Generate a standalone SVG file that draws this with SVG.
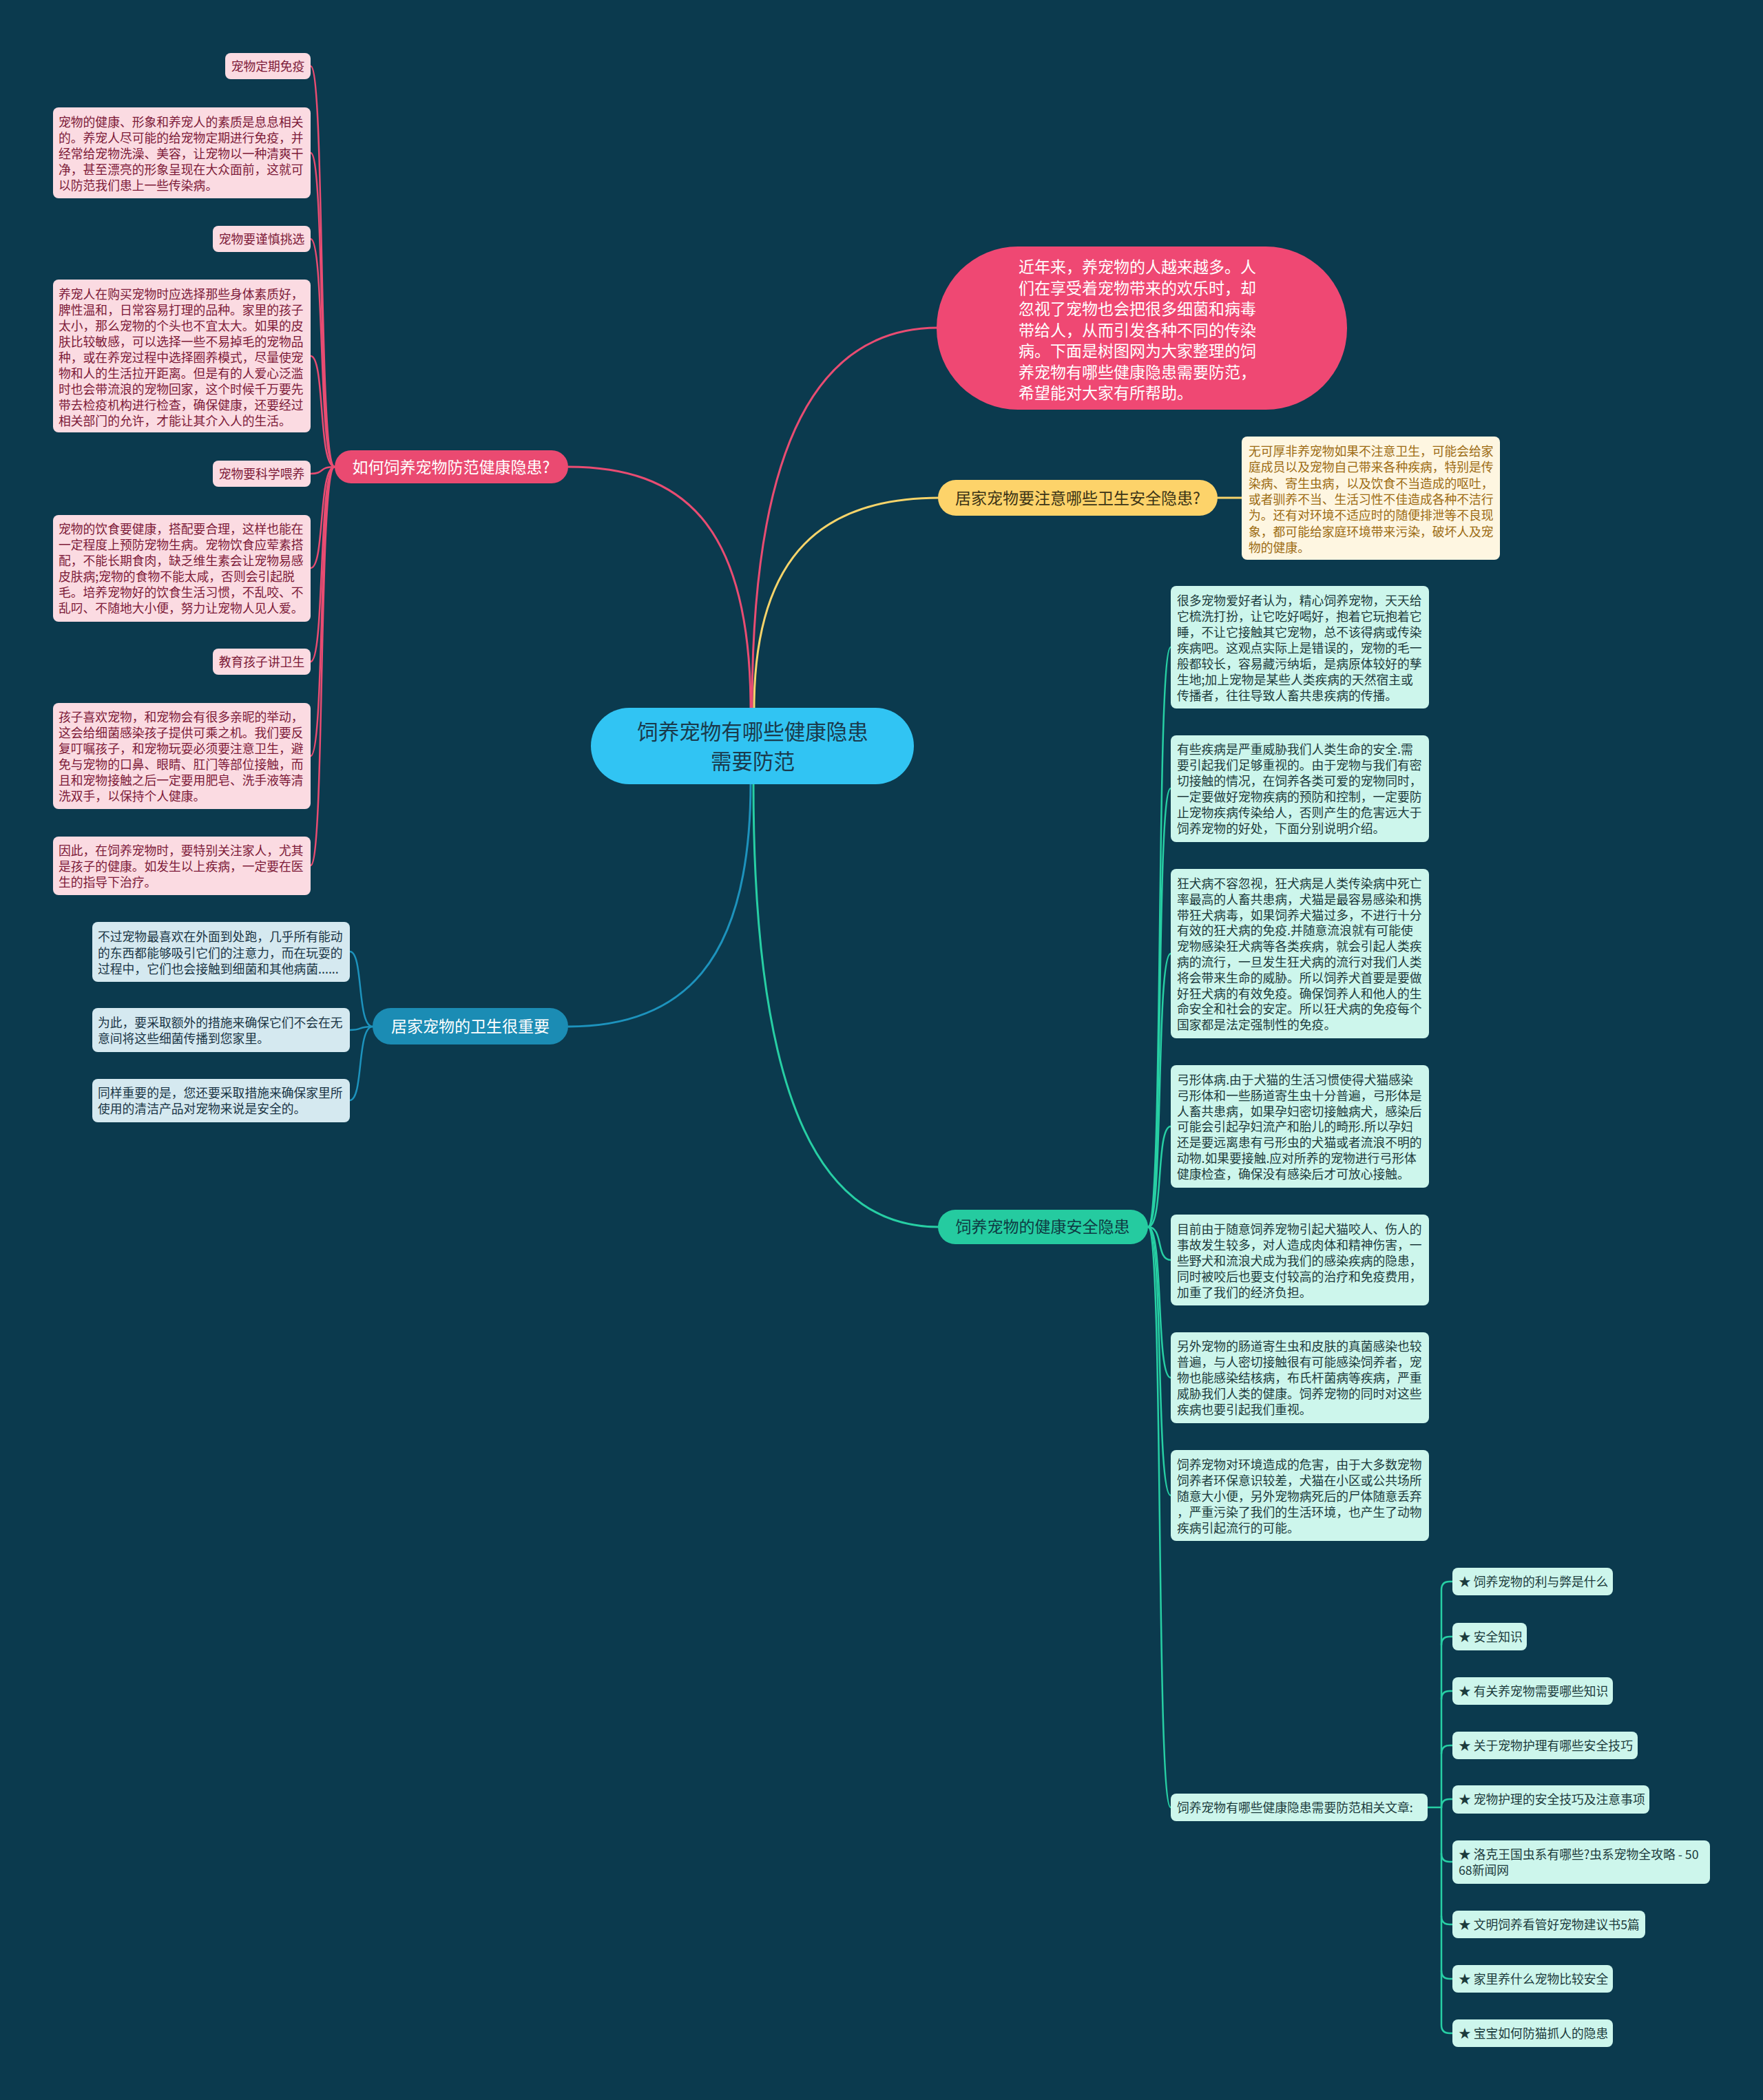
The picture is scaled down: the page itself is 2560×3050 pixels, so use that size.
<svg xmlns="http://www.w3.org/2000/svg" width="2560" height="3050" viewBox="0 0 2560 3050">
<style>
text{font-family:"Noto Sans CJK SC","Noto Sans",sans-serif;}
.c{fill:none;stroke-linecap:round;}
.cp{stroke:#e94c72;stroke-width:3;}
.cy{stroke:#f7d46a;stroke-width:3;}
.cb{stroke:#1d93bd;stroke-width:3;}
.cg{stroke:#27cfa4;stroke-width:3;}
.pl{fill:#fbdbe2;}
.plt{fill:#7d1a38;font-size:17.8px;}
.bl{fill:#d5e9f0;}
.blt{fill:#1a3545;font-size:17.8px;}
.gl{fill:#cdf6ec;}
.glt{fill:#1c3b3c;font-size:17.8px;}
.yl{fill:#fef6e1;}
.ylt{fill:#9c6b12;font-size:17.8px;}
.mt{font-size:23px;}
</style>
<rect x="0" y="0" width="2560" height="3050" fill="#0b3a4e"/>

<g id="connectors">
  <path class="c cp" d="M1092,1030 C1092,640 1190,476 1362,476"/>
  <path class="c cp" d="M1090,1030 C1090,760 990,678 825,678"/>
  <path class="c cy" d="M1095,1030 C1095,800 1200,723 1364,723"/>
  <path class="c cb" d="M1090,1137 C1090,1400 990,1491 825,1491"/>
  <path class="c cg" d="M1094,1137 C1094,1620 1200,1782 1364,1782"/>
  <path class="c cy" d="M1768,723 L1803,723"/>
  <g class="c cp" style="stroke-width:2.5">
    <path d="M486,678 C462,678 472,96 451,96"/>
    <path d="M486,678 C462,678 472,222 451,222"/>
    <path d="M486,678 C462,678 472,347 451,347"/>
    <path d="M486,678 C462,678 472,517 451,517"/>
    <path d="M486,678 C462,678 472,688 451,688"/>
    <path d="M486,678 C462,678 472,825 451,825"/>
    <path d="M486,678 C462,678 472,961 451,961"/>
    <path d="M486,678 C462,678 472,1098 451,1098"/>
    <path d="M486,678 C462,678 472,1257 451,1257"/>
  </g>
  <g class="c cb" style="stroke-width:2.5">
    <path d="M541,1491 C518,1491 528,1382 508,1382"/>
    <path d="M541,1491 C518,1491 528,1496 508,1496"/>
    <path d="M541,1491 C518,1491 528,1598 508,1598"/>
  </g>
  <g class="c cg" style="stroke-width:2.5">
    <path d="M1667,1782 C1690,1782 1678,940 1700,940"/>
    <path d="M1667,1782 C1690,1782 1678,1145 1700,1145"/>
    <path d="M1667,1782 C1690,1782 1678,1385 1700,1385"/>
    <path d="M1667,1782 C1690,1782 1678,1636 1700,1636"/>
    <path d="M1667,1782 C1690,1782 1678,1830 1700,1830"/>
    <path d="M1667,1782 C1690,1782 1678,2001 1700,2001"/>
    <path d="M1667,1782 C1690,1782 1678,2172 1700,2172"/>
    <path d="M1667,1782 C1690,1782 1678,2625 1700,2625"/>
    <path d="M2073,2625 L2093,2625"/>
    <path d="M2093,2625 L2093,2309 Q2093,2297 2105,2297 L2109,2297"/>
    <path d="M2093,2389 Q2093,2377 2105,2377 L2109,2377"/>
    <path d="M2093,2468 Q2093,2456 2105,2456 L2109,2456"/>
    <path d="M2093,2547 Q2093,2535 2105,2535 L2109,2535"/>
    <path d="M2093,2625 Q2093,2613 2105,2613 L2109,2613"/>
    <path d="M2093,2625 L2093,2941 Q2093,2953 2105,2953 L2109,2953"/>
    <path d="M2093,2692 Q2093,2704 2105,2704 L2109,2704"/>
    <path d="M2093,2783 Q2093,2795 2105,2795 L2109,2795"/>
    <path d="M2093,2862 Q2093,2874 2105,2874 L2109,2874"/>
  </g>
</g>

<g id="center">
  <rect x="858" y="1028" width="469" height="111" rx="55.5" fill="#31c4f3"/>
  <text x="1093" y="1074" text-anchor="middle" font-size="30.5" fill="#1a3a4c">饲养宠物有哪些健康隐患</text>
  <text x="1093" y="1117" text-anchor="middle" font-size="30.5" fill="#1a3a4c">需要防范</text>
</g>

<g id="intro">
  <rect x="1360" y="358" width="596" height="237" rx="118" fill="#ef4873"/>
  <text fill="#ffffff" font-size="23">
    <tspan x="1479" y="396">近年来，养宠物的人越来越多。人</tspan>
    <tspan x="1479" y="426.5">们在享受着宠物带来的欢乐时，却</tspan>
    <tspan x="1479" y="457">忽视了宠物也会把很多细菌和病毒</tspan>
    <tspan x="1479" y="487.5">带给人，从而引发各种不同的传染</tspan>
    <tspan x="1479" y="518">病。下面是树图网为大家整理的饲</tspan>
    <tspan x="1479" y="548.5">养宠物有哪些健康隐患需要防范，</tspan>
    <tspan x="1479" y="579">希望能对大家有所帮助。</tspan>
  </text>
</g>

<g id="yellow-main">
  <rect x="1362" y="697" width="406" height="52" rx="26" fill="#fdd36a"/>
  <text class="mt" x="1565" y="731.5" text-anchor="middle" fill="#3b3316">居家宠物要注意哪些卫生安全隐患?</text>
</g>
<g id="yellow-detail">
  <rect class="yl" x="1803" y="634" width="375" height="179" rx="8"/>
  <text class="ylt">
    <tspan x="1813" y="662">无可厚非养宠物如果不注意卫生，可能会给家</tspan>
    <tspan x="1813" y="685.3">庭成员以及宠物自己带来各种疾病，特别是传</tspan>
    <tspan x="1813" y="708.6">染病、寄生虫病，以及饮食不当造成的呕吐，</tspan>
    <tspan x="1813" y="731.9">或者驯养不当、生活习性不佳造成各种不洁行</tspan>
    <tspan x="1813" y="755.2">为。还有对环境不适应时的随便排泄等不良现</tspan>
    <tspan x="1813" y="778.5">象，都可能给家庭环境带来污染，破坏人及宠</tspan>
    <tspan x="1813" y="801.8">物的健康。</tspan>
  </text>
</g>

<g id="pink-main">
  <rect x="486" y="654" width="339" height="48" rx="24" fill="#ea4a71"/>
  <text class="mt" x="655" y="686.5" text-anchor="middle" fill="#ffffff">如何饲养宠物防范健康隐患?</text>
</g>
<g id="p1">
  <rect class="pl" x="327" y="77" width="124" height="38" rx="8"/>
  <text class="plt" x="389" y="103" text-anchor="middle">宠物定期免疫</text>
</g>
<g id="p2">
  <rect class="pl" x="77" y="156" width="374" height="132" rx="8"/>
  <text class="plt">
    <tspan x="85" y="184">宠物的健康、形象和养宠人的素质是息息相关</tspan>
    <tspan x="85" y="207">的。养宠人尽可能的给宠物定期进行免疫，并</tspan>
    <tspan x="85" y="230">经常给宠物洗澡、美容，让宠物以一种清爽干</tspan>
    <tspan x="85" y="253">净，甚至漂亮的形象呈现在大众面前，这就可</tspan>
    <tspan x="85" y="276">以防范我们患上一些传染病。</tspan>
  </text>
</g>
<g id="p3">
  <rect class="pl" x="309" y="328" width="142" height="38" rx="8"/>
  <text class="plt" x="380" y="354" text-anchor="middle">宠物要谨慎挑选</text>
</g>
<g id="p4">
  <rect class="pl" x="77" y="406" width="374" height="222" rx="8"/>
  <text class="plt">
    <tspan x="85" y="434">养宠人在购买宠物时应选择那些身体素质好，</tspan>
    <tspan x="85" y="457">脾性温和，日常容易打理的品种。家里的孩子</tspan>
    <tspan x="85" y="480">太小，那么宠物的个头也不宜太大。如果的皮</tspan>
    <tspan x="85" y="503">肤比较敏感，可以选择一些不易掉毛的宠物品</tspan>
    <tspan x="85" y="526">种，或在养宠过程中选择圈养模式，尽量使宠</tspan>
    <tspan x="85" y="549">物和人的生活拉开距离。但是有的人爱心泛滥</tspan>
    <tspan x="85" y="572">时也会带流浪的宠物回家，这个时候千万要先</tspan>
    <tspan x="85" y="595">带去检疫机构进行检查，确保健康，还要经过</tspan>
    <tspan x="85" y="618">相关部门的允许，才能让其介入人的生活。</tspan>
  </text>
</g>
<g id="p5">
  <rect class="pl" x="309" y="669" width="142" height="38" rx="8"/>
  <text class="plt" x="380" y="695" text-anchor="middle">宠物要科学喂养</text>
</g>
<g id="p6">
  <rect class="pl" x="77" y="748" width="374" height="155" rx="8"/>
  <text class="plt">
    <tspan x="85" y="775">宠物的饮食要健康，搭配要合理，这样也能在</tspan>
    <tspan x="85" y="798">一定程度上预防宠物生病。宠物饮食应荤素搭</tspan>
    <tspan x="85" y="821">配，不能长期食肉，缺乏维生素会让宠物易感</tspan>
    <tspan x="85" y="844">皮肤病;宠物的食物不能太咸，否则会引起脱</tspan>
    <tspan x="85" y="867">毛。培养宠物好的饮食生活习惯，不乱咬、不</tspan>
    <tspan x="85" y="890">乱叼、不随地大小便，努力让宠物人见人爱。</tspan>
  </text>
</g>
<g id="p7">
  <rect class="pl" x="309" y="942" width="142" height="38" rx="8"/>
  <text class="plt" x="380" y="968" text-anchor="middle">教育孩子讲卫生</text>
</g>
<g id="p8">
  <rect class="pl" x="77" y="1021" width="374" height="154" rx="8"/>
  <text class="plt">
    <tspan x="85" y="1048">孩子喜欢宠物，和宠物会有很多亲昵的举动，</tspan>
    <tspan x="85" y="1071">这会给细菌感染孩子提供可乘之机。我们要反</tspan>
    <tspan x="85" y="1094">复叮嘱孩子，和宠物玩耍必须要注意卫生，避</tspan>
    <tspan x="85" y="1117">免与宠物的口鼻、眼睛、肛门等部位接触，而</tspan>
    <tspan x="85" y="1140">且和宠物接触之后一定要用肥皂、洗手液等清</tspan>
    <tspan x="85" y="1163">洗双手，以保持个人健康。</tspan>
  </text>
</g>
<g id="p9">
  <rect class="pl" x="77" y="1215" width="374" height="85" rx="8"/>
  <text class="plt">
    <tspan x="85" y="1242">因此，在饲养宠物时，要特别关注家人，尤其</tspan>
    <tspan x="85" y="1265">是孩子的健康。如发生以上疾病，一定要在医</tspan>
    <tspan x="85" y="1288">生的指导下治疗。</tspan>
  </text>
</g>

<g id="blue-main">
  <rect x="541" y="1464" width="284" height="53" rx="26.5" fill="#1b8cb4"/>
  <text class="mt" x="683" y="1499" text-anchor="middle" fill="#ffffff">居家宠物的卫生很重要</text>
</g>
<g id="b1">
  <rect class="bl" x="134" y="1339" width="374" height="87" rx="8"/>
  <text class="blt">
    <tspan x="142" y="1367">不过宠物最喜欢在外面到处跑，几乎所有能动</tspan>
    <tspan x="142" y="1390.5">的东西都能够吸引它们的注意力，而在玩耍的</tspan>
    <tspan x="142" y="1414">过程中，它们也会接触到细菌和其他病菌......</tspan>
  </text>
</g>
<g id="b2">
  <rect class="bl" x="134" y="1464" width="374" height="64" rx="8"/>
  <text class="blt">
    <tspan x="142" y="1492">为此，要采取额外的措施来确保它们不会在无</tspan>
    <tspan x="142" y="1515">意间将这些细菌传播到您家里。</tspan>
  </text>
</g>
<g id="b3">
  <rect class="bl" x="134" y="1567" width="374" height="63" rx="8"/>
  <text class="blt">
    <tspan x="142" y="1594">同样重要的是，您还要采取措施来确保家里所</tspan>
    <tspan x="142" y="1617">使用的清洁产品对宠物来说是安全的。</tspan>
  </text>
</g>

<g id="green-main">
  <rect x="1362" y="1757" width="305" height="50" rx="25" fill="#25cba0"/>
  <text class="mt" x="1514" y="1790" text-anchor="middle" fill="#0e3b43">饲养宠物的健康安全隐患</text>
</g>
<g id="g1">
  <rect class="gl" x="1700" y="851" width="375" height="178" rx="8"/>
  <text class="glt">
    <tspan x="1709" y="879">很多宠物爱好者认为，精心饲养宠物，天天给</tspan>
    <tspan x="1709" y="902">它梳洗打扮，让它吃好喝好，抱着它玩抱着它</tspan>
    <tspan x="1709" y="925">睡，不让它接触其它宠物，总不该得病或传染</tspan>
    <tspan x="1709" y="948">疾病吧。这观点实际上是错误的，宠物的毛一</tspan>
    <tspan x="1709" y="971">般都较长，容易藏污纳垢，是病原体较好的孳</tspan>
    <tspan x="1709" y="994">生地;加上宠物是某些人类疾病的天然宿主或</tspan>
    <tspan x="1709" y="1017">传播者，往往导致人畜共患疾病的传播。</tspan>
  </text>
</g>
<g id="g2">
  <rect class="gl" x="1700" y="1068" width="375" height="155" rx="8"/>
  <text class="glt">
    <tspan x="1709" y="1095">有些疾病是严重威胁我们人类生命的安全.需</tspan>
    <tspan x="1709" y="1118">要引起我们足够重视的。由于宠物与我们有密</tspan>
    <tspan x="1709" y="1141">切接触的情况，在饲养各类可爱的宠物同时，</tspan>
    <tspan x="1709" y="1164">一定要做好宠物疾病的预防和控制，一定要防</tspan>
    <tspan x="1709" y="1187">止宠物疾病传染给人，否则产生的危害远大于</tspan>
    <tspan x="1709" y="1210">饲养宠物的好处，下面分别说明介绍。</tspan>
  </text>
</g>
<g id="g3">
  <rect class="gl" x="1700" y="1262" width="375" height="246" rx="8"/>
  <text class="glt">
    <tspan x="1709" y="1290">狂犬病不容忽视，狂犬病是人类传染病中死亡</tspan>
    <tspan x="1709" y="1312.8">率最高的人畜共患病，犬猫是最容易感染和携</tspan>
    <tspan x="1709" y="1335.6">带狂犬病毒，如果饲养犬猫过多，不进行十分</tspan>
    <tspan x="1709" y="1358.4">有效的狂犬病的免疫.并随意流浪就有可能使</tspan>
    <tspan x="1709" y="1381.2">宠物感染狂犬病等各类疾病，就会引起人类疾</tspan>
    <tspan x="1709" y="1404">病的流行，一旦发生狂犬病的流行对我们人类</tspan>
    <tspan x="1709" y="1426.8">将会带来生命的威胁。所以饲养犬首要是要做</tspan>
    <tspan x="1709" y="1449.6">好狂犬病的有效免疫。确保饲养人和他人的生</tspan>
    <tspan x="1709" y="1472.4">命安全和社会的安定。所以狂犬病的免疫每个</tspan>
    <tspan x="1709" y="1495.2">国家都是法定强制性的免疫。</tspan>
  </text>
</g>
<g id="g4">
  <rect class="gl" x="1700" y="1547" width="375" height="178" rx="8"/>
  <text class="glt">
    <tspan x="1709" y="1575">弓形体病.由于犬猫的生活习惯使得犬猫感染</tspan>
    <tspan x="1709" y="1597.8">弓形体和一些肠道寄生虫十分普遍，弓形体是</tspan>
    <tspan x="1709" y="1620.6">人畜共患病，如果孕妇密切接触病犬，感染后</tspan>
    <tspan x="1709" y="1643.4">可能会引起孕妇流产和胎儿的畸形.所以孕妇</tspan>
    <tspan x="1709" y="1666.2">还是要远离患有弓形虫的犬猫或者流浪不明的</tspan>
    <tspan x="1709" y="1689">动物.如果要接触.应对所养的宠物进行弓形体</tspan>
    <tspan x="1709" y="1711.8">健康检查，确保没有感染后才可放心接触。</tspan>
  </text>
</g>
<g id="g5">
  <rect class="gl" x="1700" y="1764" width="375" height="132" rx="8"/>
  <text class="glt">
    <tspan x="1709" y="1792">目前由于随意饲养宠物引起犬猫咬人、伤人的</tspan>
    <tspan x="1709" y="1815">事故发生较多，对人造成肉体和精神伤害，一</tspan>
    <tspan x="1709" y="1838">些野犬和流浪犬成为我们的感染疾病的隐患，</tspan>
    <tspan x="1709" y="1861">同时被咬后也要支付较高的治疗和免疫费用，</tspan>
    <tspan x="1709" y="1884">加重了我们的经济负担。</tspan>
  </text>
</g>
<g id="g6">
  <rect class="gl" x="1700" y="1935" width="375" height="132" rx="8"/>
  <text class="glt">
    <tspan x="1709" y="1962">另外宠物的肠道寄生虫和皮肤的真菌感染也较</tspan>
    <tspan x="1709" y="1985">普遍，与人密切接触很有可能感染饲养者，宠</tspan>
    <tspan x="1709" y="2008">物也能感染结核病，布氏杆菌病等疾病，严重</tspan>
    <tspan x="1709" y="2031">威胁我们人类的健康。饲养宠物的同时对这些</tspan>
    <tspan x="1709" y="2054">疾病也要引起我们重视。</tspan>
  </text>
</g>
<g id="g7">
  <rect class="gl" x="1700" y="2106" width="375" height="132" rx="8"/>
  <text class="glt">
    <tspan x="1709" y="2134">饲养宠物对环境造成的危害，由于大多数宠物</tspan>
    <tspan x="1709" y="2157">饲养者环保意识较差，犬猫在小区或公共场所</tspan>
    <tspan x="1709" y="2180">随意大小便，另外宠物病死后的尸体随意丢弃</tspan>
    <tspan x="1709" y="2203">，严重污染了我们的生活环境，也产生了动物</tspan>
    <tspan x="1709" y="2226">疾病引起流行的可能。</tspan>
  </text>
</g>
<g id="g8">
  <rect class="gl" x="1700" y="2605" width="373" height="40" rx="8"/>
  <text class="glt" x="1709" y="2632">饲养宠物有哪些健康隐患需要防范相关文章:</text>
</g>
<g id="s1"><rect class="gl" x="2109" y="2277" width="233" height="40" rx="8"/><text class="glt" x="2118" y="2304">★ 饲养宠物的利与弊是什么</text></g>
<g id="s2"><rect class="gl" x="2109" y="2357" width="108" height="40" rx="8"/><text class="glt" x="2118" y="2384">★ 安全知识</text></g>
<g id="s3"><rect class="gl" x="2109" y="2436" width="233" height="40" rx="8"/><text class="glt" x="2118" y="2463">★ 有关养宠物需要哪些知识</text></g>
<g id="s4"><rect class="gl" x="2109" y="2515" width="269" height="40" rx="8"/><text class="glt" x="2118" y="2542">★ 关于宠物护理有哪些安全技巧</text></g>
<g id="s5"><rect class="gl" x="2109" y="2593" width="286" height="41" rx="8"/><text class="glt" x="2118" y="2620">★ 宠物护理的安全技巧及注意事项</text></g>
<g id="s6"><rect class="gl" x="2109" y="2673" width="374" height="63" rx="8"/><text class="glt"><tspan x="2118" y="2700">★ 洛克王国虫系有哪些?虫系宠物全攻略 - 50</tspan><tspan x="2118" y="2723">68新闻网</tspan></text></g>
<g id="s7"><rect class="gl" x="2109" y="2775" width="280" height="40" rx="8"/><text class="glt" x="2118" y="2802">★ 文明饲养看管好宠物建议书5篇</text></g>
<g id="s8"><rect class="gl" x="2109" y="2854" width="233" height="40" rx="8"/><text class="glt" x="2118" y="2881">★ 家里养什么宠物比较安全</text></g>
<g id="s9"><rect class="gl" x="2109" y="2933" width="233" height="40" rx="8"/><text class="glt" x="2118" y="2960">★ 宝宝如何防猫抓人的隐患</text></g>
</svg>
